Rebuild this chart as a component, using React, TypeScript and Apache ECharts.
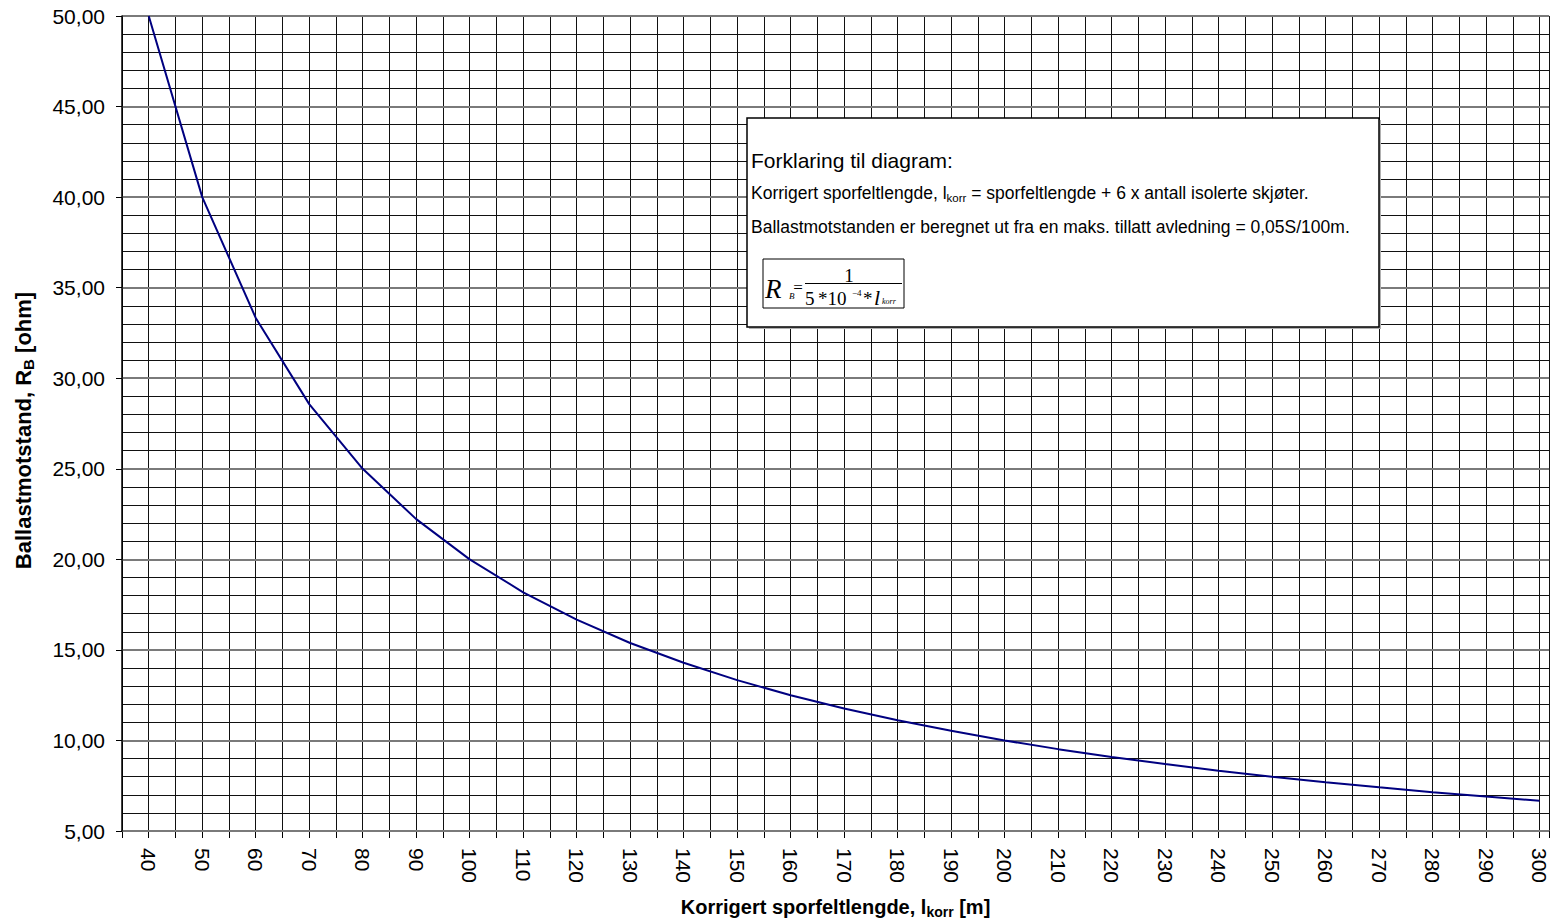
import React, { useEffect, useRef } from "react";
import * as echarts from "echarts";

// Korrigert sporfeltlengde l_korr [m]
const lengths = [40, 50, 60, 70, 80, 90, 100, 110, 120, 130, 140, 150, 160, 170, 180, 190, 200, 210, 220, 230, 240, 250, 260, 270, 280, 290, 300];
// Ballastmotstand R_B [ohm]
const resistances = [50.0, 40.0, 33.33, 28.57, 25.0, 22.22, 20.0, 18.18, 16.67, 15.38, 14.29, 13.33, 12.5, 11.76, 11.11, 10.53, 10.0, 9.52, 9.09, 8.7, 8.33, 8.0, 7.69, 7.41, 7.14, 6.9, 6.67];

const xMin = 35;
const xMax = 301.8;
const yMin = 5;
const yMax = 50;

const legendTitle = "Forklaring til diagram:";
const legendLine1a = "Korrigert sporfeltlengde, l";
const legendLine1b = " = sporfeltlengde + 6 x antall isolerte skjøter.";
const legendLine3 = "Ballastmotstanden er beregnet ut fra en maks. tillatt avledning = 0,05S/100m.";

const SANS = "'Liberation Sans', Arial, sans-serif";
const SERIF = "'Liberation Serif', 'Times New Roman', serif";

export default function App() {
  const ref = useRef<HTMLDivElement>(null);
  useEffect(() => {
    if (!ref.current) return;
    const chart = echarts.init(ref.current, undefined, { renderer: "svg" });
    const data = lengths.map((l, i) => [l, resistances[i]]);
    const option: any = {
      animation: false,
      backgroundColor: "#ffffff",
      grid: { left: 122, right: 0, top: 16, bottom: 89, containLabel: false },
      xAxis: {
        type: "value",
        min: xMin,
        max: xMax,
        interval: 5,
        name: "Korrigert sporfeltlengde, l{sub|korr} [m]",
        nameLocation: "middle",
        nameGap: 64,
        nameTextStyle: {
          fontFamily: SANS,
          fontSize: 20,
          fontWeight: "bold",
          color: "#000",
          rich: {
            sub: { fontFamily: SANS, fontSize: 14, fontWeight: "bold", color: "#000", padding: [10, 0, 0, 0] },
          },
        },
        axisLine: { show: true, lineStyle: { color: "#555", width: 2 } },
        axisTick: { show: true, length: 7, inside: false, lineStyle: { color: "#000", width: 1 } },
        axisLabel: {
          rotate: -90,
          margin: 17,
          fontFamily: SANS,
          fontSize: 21,
          color: "#000",
          formatter: (v: number) => (v >= 40 && v <= 300 && v % 10 === 0 ? String(v) : ""),
        },
        splitLine: { show: true, lineStyle: { color: "#111", width: 1 } },
      },
      yAxis: [
        {
          type: "value",
          position: "left",
          min: yMin,
          max: yMax,
          interval: 1,
          axisLine: { show: false },
          axisTick: { show: false },
          axisLabel: { show: false },
          splitLine: { show: true, lineStyle: { color: "#111", width: 1 } },
        },
        {
          type: "value",
          position: "left",
          z: 3,
          min: yMin,
          max: yMax,
          interval: 5,
          name: "Ballastmotstand, R{sub|B} [ohm]",
          nameLocation: "middle",
          nameRotate: 90,
          nameGap: 86,
          nameTextStyle: {
            fontFamily: SANS,
            fontSize: 22,
            fontWeight: "bold",
            color: "#000",
            padding: [0, 14, 0, 0],
            rich: {
              sub: { fontFamily: SANS, fontSize: 15, fontWeight: "bold", color: "#000", padding: [10, 0, 0, 0] },
            },
          },
          axisLine: { show: true, lineStyle: { color: "#000", width: 1.5 } },
          axisTick: { show: true, length: 6, inside: false, lineStyle: { color: "#000", width: 1 } },
          axisLabel: {
            margin: 17,
            fontFamily: SANS,
            fontSize: 21,
            color: "#000",
            formatter: (v: number) => v.toFixed(2).replace(".", ","),
          },
          splitLine: { show: true, lineStyle: { color: "#7a7a7a", width: 2 } },
        },
      ],
      series: [
        {
          type: "line",
          data,
          yAxisIndex: 0,
          showSymbol: false,
          symbol: "none",
          lineStyle: { color: "#000080", width: 2 },
          itemStyle: { color: "#000080" },
          z: 5,
        },
      ],
      graphic: [
        { type: "rect", z: 100, shape: { x: 749, y: 120, width: 632, height: 209 }, style: { fill: "#b0b0b0" } },
        { type: "rect", z: 101, shape: { x: 747, y: 118, width: 632, height: 209 }, style: { fill: "#fff", stroke: "#000", lineWidth: 1.5 } },
        {
          type: "text", z: 102, x: 751, y: 160,
          style: { text: legendTitle, font: `21px ${SANS}`, fill: "#000", align: "left", verticalAlign: "middle" },
        },
        {
          type: "text", z: 102, x: 751, y: 193,
          style: {
            text: `{m|${legendLine1a}}{s|korr}{m|${legendLine1b}}`,
            align: "left",
            verticalAlign: "middle",
            rich: {
              m: { fontFamily: SANS, fontSize: 17.5, color: "#000", lineHeight: 22 },
              s: { fontFamily: SANS, fontSize: 11.5, color: "#000", padding: [9, 0, 0, 0] },
            },
          },
        },
        {
          type: "text", z: 102, x: 751, y: 227,
          style: { text: legendLine3, font: `17.5px ${SANS}`, fill: "#000", align: "left", verticalAlign: "middle" },
        },
        // formula box
        { type: "rect", z: 102, shape: { x: 763, y: 259, width: 141, height: 49 }, style: { fill: "#fff", stroke: "#000", lineWidth: 1 } },
        { type: "text", z: 103, x: 765, y: 302, style: { text: "R", font: `italic 27px ${SERIF}`, fill: "#000", align: "left", verticalAlign: "bottom" } },
        { type: "text", z: 103, x: 789, y: 300, style: { text: "B", font: `italic 9px ${SERIF}`, fill: "#000", align: "left", verticalAlign: "bottom" } },
        { type: "text", z: 103, x: 798, y: 287, style: { text: "=", font: `17px ${SERIF}`, fill: "#000", align: "center", verticalAlign: "middle" } },
        { type: "line", z: 103, shape: { x1: 805, y1: 283.5, x2: 902, y2: 283.5 }, style: { stroke: "#000", lineWidth: 1 } },
        { type: "text", z: 103, x: 849, y: 285, style: { text: "1", font: `19px ${SERIF}`, fill: "#000", align: "center", verticalAlign: "bottom" } },
        { type: "text", z: 103, x: 805, y: 308, style: { text: "5", font: `19px ${SERIF}`, fill: "#000", align: "left", verticalAlign: "bottom" } },
        { type: "text", z: 103, x: 818, y: 308, style: { text: "*10", font: `19px ${SERIF}`, fill: "#000", align: "left", verticalAlign: "bottom" } },
        { type: "text", z: 103, x: 852, y: 297, style: { text: "−4", font: `9px ${SERIF}`, fill: "#000", align: "left", verticalAlign: "bottom" } },
        { type: "text", z: 103, x: 863, y: 308, style: { text: "*", font: `19px ${SERIF}`, fill: "#000", align: "left", verticalAlign: "bottom" } },
        { type: "text", z: 103, x: 874, y: 308, style: { text: "l", font: `italic 22px ${SERIF}`, fill: "#000", align: "left", verticalAlign: "bottom" } },
        { type: "text", z: 103, x: 882, y: 305, style: { text: "korr", font: `italic 8px ${SERIF}`, fill: "#000", align: "left", verticalAlign: "bottom" } },
      ],
    };
    chart.setOption(option);
    return () => chart.dispose();
  }, []);
  return <div ref={ref} style={{ position: "fixed", left: 0, top: 0, width: 1550, height: 924, background: "#fff" }} />;
}
